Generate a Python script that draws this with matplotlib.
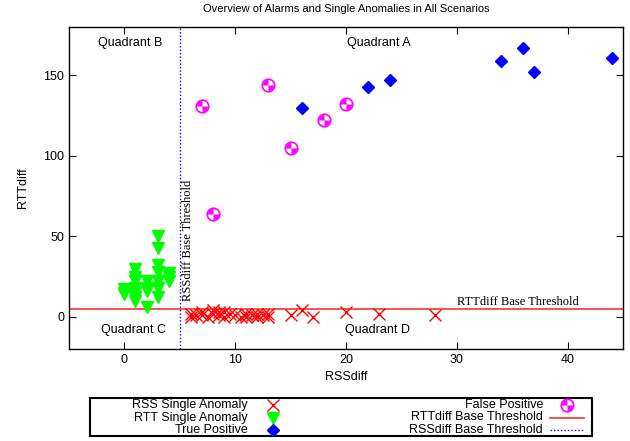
import matplotlib
matplotlib.use('Agg')
import matplotlib.pyplot as plt
from matplotlib.path import Path
from matplotlib.patches import Rectangle

plt.rcParams['font.family'] = ['Liberation Sans', 'DejaVu Sans']

# data
rss_x = [6, 6, 6.5, 7, 7, 7.5, 8, 8, 8.5, 8.5, 9, 9, 9.5, 10, 10.5, 11, 11, 11.5, 12, 12, 12.5, 13, 13,
         15, 16, 17, 20, 23, 28]
rss_y = [0, 2, 1, 1, 3, 0, 2, 4, 1, 3, 0, 3, 2, 1, 0, 0, 2, 1, 0, 2, 1, 0, 2,
         1, 4, 0, 3, 2, 1]

rtt_x = [0, 0, 0, 1, 1, 1, 1, 1, 1, 1, 2, 2, 2, 2, 3, 3, 3, 3, 3, 3, 3, 4, 4, 4]
rtt_y = [17, 15, 14, 30, 25, 22, 18, 15, 12, 10, 22, 18, 16, 6, 50, 43, 32, 28, 22, 18, 12, 27, 25, 22]

tp_x = [16, 22, 24, 34, 36, 37, 44]
tp_y = [130, 143, 147, 159, 167, 152, 161]

fp_x = [7, 8, 13, 15, 18, 20]
fp_y = [131, 64, 144, 105, 122, 132]

rtt_thr = 5
rss_thr = 5

RED = '#ff0000'
GREEN = '#00ff00'
BLUE = '#0000ff'
MAG = '#ff00ff'

# half-filled circle marker (two opposite quarters)
quarters = Path.make_compound_path(Path.wedge(90, 180), Path.wedge(270, 360))

fig = plt.figure(figsize=(6.3, 4.41), dpi=100)
ax = fig.add_axes([69/630, 1-349/441, 554/630, 322/441])

ax.axhline(rtt_thr, color='#ff3030', lw=1.2, zorder=1)
ax.axvline(rss_thr, color=BLUE, lw=1.0, ls=(0, (1, 1.5)), zorder=1)

ax.plot(rss_x, rss_y, ls='none', marker='x', ms=9, mew=1.0, color=RED, zorder=3)
ax.plot(rtt_x, rtt_y, ls='none', marker='v', ms=8, color=GREEN, zorder=3)
ax.plot(tp_x, tp_y, ls='none', marker='D', ms=6.5, color=BLUE, zorder=3)
ax.plot(fp_x, fp_y, ls='none', marker='o', ms=9, mfc='white', mec=MAG, mew=1.2, zorder=3)
ax.plot(fp_x, fp_y, ls='none', marker=quarters, ms=8, mfc=MAG, mec='none', zorder=4)

ax.set_xlim(-5, 45)
ax.set_ylim(-20, 180)
ax.set_xticks([0, 10, 20, 30, 40])
ax.set_yticks([0, 50, 100, 150])
ax.tick_params(direction='in', top=True, right=True, length=5, labelsize=9, width=0.8)
for s in ax.spines.values():
    s.set_linewidth(1.0)

ax.set_xlabel('RSSdiff', fontsize=9, labelpad=4)
ax.set_ylabel('RTTdiff', fontsize=9, labelpad=10)
ax.set_title('Overview of Alarms and Single Anomalies in All Scenarios', fontsize=8, pad=11)

for txt, x, y in [('Quadrant A', 23, 170), ('Quadrant B', 0.5, 170),
                  ('Quadrant C', 0.8, -8), ('Quadrant D', 22.8, -8)]:
    ax.text(x, y, txt, ha='center', va='center', fontsize=9)

ax.text(30, 5.5, 'RTTdiff Base Threshold', family='Liberation Serif', fontsize=9,
        ha='left', va='bottom')
ax.text(5.2, 10, 'RSSdiff Base Threshold', family='Liberation Serif', fontsize=9,
        rotation=90, ha='left', va='bottom')

# legend box, gnuplot style: text right-aligned, sample on the right
lax = fig.add_axes([90/630, 1-436/441, 502/630, 38/441])
lax.set_xlim(0, 502)
lax.set_ylim(0, 38)
lax.axis('off')
lax.add_patch(Rectangle((0, 0), 502, 38, fill=False, lw=1.5, ec='black', clip_on=False))

rows = [31, 18.5, 6]
left_entries = [('RSS Single Anomaly', dict(marker='x', ms=9, mew=1.0, color=RED)),
                ('RTT Single Anomaly', dict(marker='v', ms=8, color=GREEN)),
                ('True Positive', dict(marker='D', ms=6.5, color=BLUE))]
for (lab, kw), y in zip(left_entries, rows):
    lax.text(158, y, lab, ha='right', va='center', fontsize=9)
    lax.plot([183], [y], ls='none', clip_on=False, **kw)

lax.text(453, rows[0], 'False Positive', ha='right', va='center', fontsize=9)
lax.plot([477], [rows[0]], ls='none', marker='o', ms=9, mfc='white', mec=MAG, mew=1.2, clip_on=False)
lax.plot([477], [rows[0]], ls='none', marker=quarters, ms=8, mfc=MAG, mec='none', clip_on=False)
lax.text(453, rows[1], 'RTTdiff Base Threshold', ha='right', va='center', fontsize=9)
lax.plot([460, 494], [rows[1], rows[1]], color='#ff3030', lw=1.2, clip_on=False)
lax.text(453, rows[2], 'RSSdiff Base Threshold', ha='right', va='center', fontsize=9)
lax.plot([460, 494], [rows[2], rows[2]], color=BLUE, lw=1.0, ls=(0, (1, 1.5)), clip_on=False)

fig.savefig('out.png', dpi=100)
